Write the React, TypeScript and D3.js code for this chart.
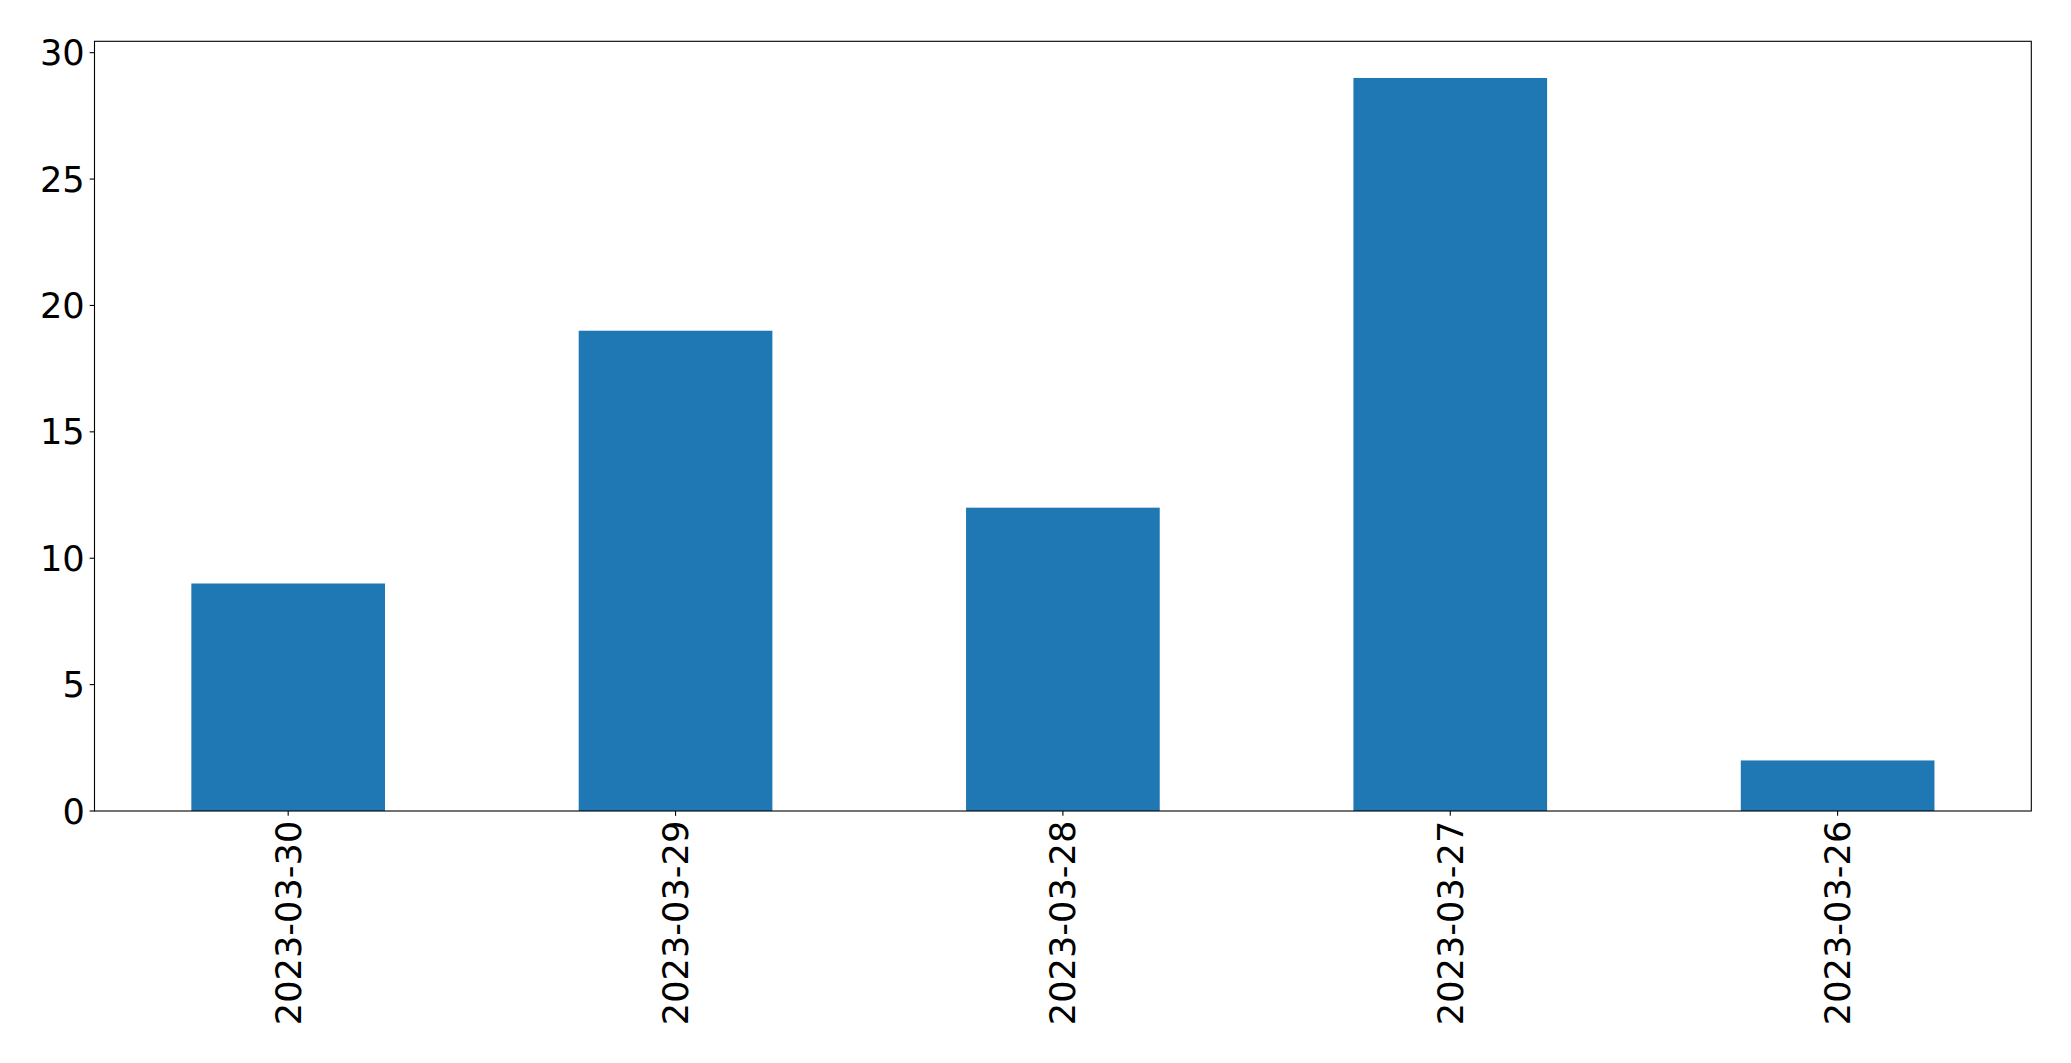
import React from "react";
import * as d3 from "d3";

const categories = ["2023-03-30", "2023-03-29", "2023-03-28", "2023-03-27", "2023-03-26"];
const values = [9, 19, 12, 29, 2];
const yTicks = [0, 5, 10, 15, 20, 25, 30];

const W = 2071;
const H = 1063;
const left = 94.5;
const right = 2031.3;
const top = 41.3;
const bottom = 811;
const fontSize = 35.2;
const tickLen = 4.86;
const pad = 4.86;

export default function App() {
  const x = d3
    .scaleLinear()
    .domain([-0.5, categories.length - 0.5])
    .range([left, right]);
  const yMax = d3.max(values)! * 1.05;
  const y = d3.scaleLinear().domain([0, yMax]).range([bottom, top]);
  const barW = x(0.25) - x(-0.25);

  return (
    <div style={{ position: "fixed", left: 0, top: 0, width: W, height: H, background: "#fff" }}>
      <svg width={W} height={H} style={{ display: "block" }} fontFamily="'DejaVu Sans', sans-serif">
        <rect x={0} y={0} width={W} height={H} fill="#fff" />
        {values.map((v, i) => (
          <rect
            key={i}
            x={x(i) - barW / 2}
            y={y(v)}
            width={barW}
            height={y(0) - y(v)}
            fill="#1f77b4"
          />
        ))}
        <rect
          x={left}
          y={top}
          width={right - left}
          height={bottom - top}
          fill="none"
          stroke="#000"
          strokeWidth={1.1}
        />
        {yTicks.map((t) => (
          <g key={t}>
            <line x1={left - tickLen} x2={left} y1={y(t)} y2={y(t)} stroke="#000" strokeWidth={1.1} />
            <text
              x={left - tickLen - pad}
              y={y(t)}
              textAnchor="end"
              dominantBaseline="central"
              fontSize={fontSize}
              fill="#000"
            >
              {t}
            </text>
          </g>
        ))}
        {categories.map((c, i) => (
          <g key={c}>
            <line x1={x(i)} x2={x(i)} y1={bottom} y2={bottom + tickLen} stroke="#000" strokeWidth={1.1} />
            <text
              transform={`translate(${x(i)},${bottom + tickLen + pad}) rotate(-90)`}
              textAnchor="end"
              dominantBaseline="central"
              fontSize={fontSize}
              fill="#000"
            >
              {c}
            </text>
          </g>
        ))}
      </svg>
    </div>
  );
}
